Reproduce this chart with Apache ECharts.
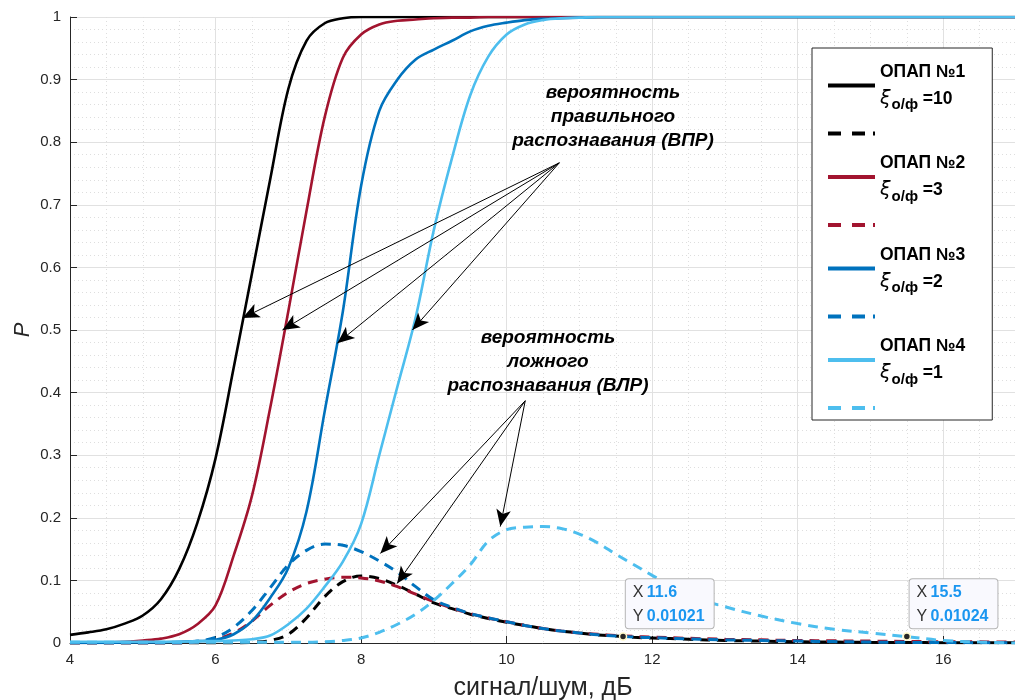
<!DOCTYPE html>
<html><head><meta charset="utf-8">
<script src="https://cdn.jsdelivr.net/npm/echarts@6/dist/echarts.min.js"></script>
<style>html,body{margin:0;padding:0;background:#fff}#c{width:1015px;height:700px}</style>
</head><body><div id="c"></div>
<script>
// signal/noise, dB
const snr = [4,4.25,4.5,4.75,5,5.25,5.5,5.75,6,6.25,6.5,6.75,7,7.25,7.5,7.75,8,8.25,8.5,8.75,9,9.25,9.5,9.75,10,10.25,10.5,10.75,11,11.25,11.5,11.75,12,12.5,13,13.5,14,14.5,15,15.5,16,16.5,17];
// probability of correct recognition (ВПР), solid
const vpr1 = [0.013,0.017,0.022,0.031,0.044,0.07,0.118,0.192,0.295,0.44,0.59,0.74,0.885,0.962,0.99,0.998,1,1,1,1,1,1,1,1,1,1,1,1,1,1,1,1,1,1,1,1,1,1,1,1,1,1,1];
const vpr2 = [0,0,0.001,0.002,0.004,0.007,0.014,0.03,0.06,0.14,0.235,0.375,0.53,0.69,0.84,0.935,0.972,0.988,0.994,0.996,0.998,0.999,0.999,1,1,1,1,1,1,1,1,1,1,1,1,1,1,1,1,1,1,1,1];
const vpr3 = [0,0,0,0.001,0.001,0.001,0.002,0.003,0.005,0.014,0.035,0.072,0.12,0.21,0.37,0.53,0.73,0.85,0.9,0.932,0.948,0.962,0.977,0.986,0.991,0.995,0.997,0.998,0.999,1,1,1,1,1,1,1,1,1,1,1,1,1,1];
const vpr4 = [0.002,0.002,0.002,0.002,0.002,0.002,0.002,0.003,0.003,0.004,0.006,0.012,0.03,0.055,0.09,0.13,0.19,0.3,0.41,0.52,0.66,0.775,0.875,0.937,0.972,0.988,0.995,0.998,0.999,1,1,1,1,1,1,1,1,1,1,1,1,1,1];
// probability of false recognition (ВЛР), dashed
const vlr1 = [0,0,0,0,0,0,0,0,0,0,0.001,0.004,0.014,0.04,0.074,0.098,0.107,0.103,0.092,0.078,0.064,0.055,0.046,0.039,0.033,0.028,0.023,0.019,0.016,0.013,0.011,0.009,0.008,0.006,0.004,0.003,0.002,0.0015,0.001,0.0008,0.0005,0.0003,0.0002];
const vlr2 = [0,0,0,0,0,0,0,0.002,0.006,0.016,0.035,0.06,0.081,0.095,0.102,0.105,0.104,0.099,0.09,0.078,0.066,0.056,0.047,0.04,0.034,0.028,0.023,0.019,0.016,0.014,0.012,0.0105,0.0095,0.0075,0.006,0.005,0.004,0.0035,0.003,0.0025,0.002,0.0018,0.0015];
const vlr3 = [0,0,0,0,0,0,0,0.003,0.009,0.025,0.052,0.088,0.125,0.148,0.158,0.156,0.146,0.131,0.113,0.09,0.069,0.057,0.047,0.04,0.034,0.028,0.023,0.019,0.016,0.013,0.011,0.0095,0.0085,0.0065,0.005,0.004,0.003,0.0022,0.0015,0.001,0.0008,0.0005,0.0003];
const vlr4 = [0.001,0.001,0.001,0.001,0.001,0.001,0.001,0.001,0.001,0.001,0.001,0.001,0.001,0.001,0.002,0.004,0.008,0.017,0.03,0.046,0.068,0.095,0.125,0.163,0.181,0.185,0.186,0.183,0.174,0.16,0.142,0.125,0.108,0.076,0.058,0.043,0.031,0.022,0.016,0.0102,0.004,0.0015,0];

const names = ['ОПАП №1','ОПАП №2','ОПАП №3','ОПАП №4'];
const xiValues = ['10','3','2','1'];
const colors = ['#000000','#A2142F','#0072BD','#4DBEEE'];
const yTicks = [0,0.1,0.2,0.3,0.4,0.5,0.6,0.7,0.8,0.9,1];

// data tips
const tipX = [11.6, 15.5];
const tipY = [0.01021, 0.01024];

// annotation arrows (data coordinates)
const vprFrom = [10.724, 0.767];
const vprTips = [[6.37,0.519],[6.92,0.5],[7.674,0.479],[8.705,0.5]];
const vlrFrom = [10.256, 0.387];
const vlrTips = [[8.265,0.143],[8.495,0.095],[9.913,0.186]];

const solid = [vpr1,vpr2,vpr3,vpr4];
const dashed = [vlr1,vlr2,vlr3,vlr4];
const FONT = 'Liberation Sans, Arial, sans-serif';

const pairs = a => snr.map((x,i)=>[x,a[i]]);
const series = [];
const legendData = [];
for (let k=0;k<4;k++){
  series.push({
    name: names[k], type:'line', data: pairs(solid[k]), symbol:'none', smooth:0.35,
    lineStyle:{color:colors[k], width:2.6}, itemStyle:{color:colors[k]}, emphasis:{disabled:true}, z:2
  });
  series.push({
    name: names[k]+' ВЛР', type:'line', data: pairs(dashed[k]), symbol:'none', smooth:0.35,
    lineStyle:{color:colors[k], width:3, type:[10,7]}, itemStyle:{color:colors[k]}, emphasis:{disabled:true}, z:2
  });
  legendData.push({name:names[k], icon:'path://M0,0h47v4h-47z'});
  legendData.push({name:names[k]+' ВЛР', icon:'path://M0,0h13v4h-13z M24,0h13v4h-13z M45,0h2v4h-2z', textStyle:{fontSize:10, lineHeight:14}});
}

const arrowData = vprTips.map(t=>[{coord:vprFrom},{coord:t}]).concat(vlrTips.map(t=>[{coord:vlrFrom},{coord:t}]));
series[0].markLine = {
  silent:true, symbol:['none','arrow'], symbolSize:[11,17], animation:false,
  lineStyle:{color:'#000', width:1, type:'solid'}, label:{show:false}, emphasis:{disabled:true},
  data: arrowData
};

const tipLabel = {
  show:true, position:[7,-4], align:'left', verticalAlign:'bottom',
  backgroundColor:'#f9f9fe', borderColor:'#b5b5b5', borderWidth:1, borderRadius:3,
  padding:[1,9,0,7],
  formatter: p => '{k|X} {v|'+p.data.coord[0]+'}\n{k|Y} {v|'+p.data.coord[1]+'}',
  rich:{
    k:{fontFamily:FONT, fontSize:16, color:'#333', lineHeight:24},
    v:{fontFamily:FONT, fontSize:16, fontWeight:'bold', color:'#1a96f0', lineHeight:24}
  }
};
const tipMarker = (i) => ({
  symbol:'circle', symbolSize:7, animation:false, silent:true,
  itemStyle:{color:'#262626', borderColor:'#fff9c8', borderWidth:1.5},
  label: tipLabel,
  data:[{coord:[tipX[i], tipY[i]]}]
});
series[1].markPoint = tipMarker(0);
series[7].markPoint = tipMarker(1);

const chart = echarts.init(document.getElementById('c'), null, {renderer:'canvas'});
chart.setOption({
  animation:false,
  backgroundColor:'#ffffff',
  grid:{left:70, right:-1, top:17, bottom:57, containLabel:false, outerBoundsMode:'none'},
  xAxis:{
    type:'value', min:4, max:17, interval:2,
    name:'сигнал/шум, дБ', nameLocation:'middle', nameGap:33,
    nameTextStyle:{fontFamily:FONT, fontSize:25, color:'#262626'},
    axisLine:{lineStyle:{color:'#262626', width:1}},
    axisTick:{inside:true, length:7, lineStyle:{color:'#262626'}},
    axisLabel:{fontFamily:FONT, fontSize:15, color:'#262626', margin:9, showMaxLabel:false},
    splitLine:{show:true, lineStyle:{color:'#e1e1e1', width:1}},
    minorTick:{show:false, splitNumber:4},
    minorSplitLine:{show:true, lineStyle:{color:'#dedede', width:1, type:[1,3]}}
  },
  yAxis:{
    type:'value', min:yTicks[0], max:yTicks[yTicks.length-1], interval:0.1,
    name:'P', nameLocation:'middle', nameGap:36, nameRotate:90, nameMoveOverlap:false,
    nameTextStyle:{fontFamily:FONT, fontSize:22, fontStyle:'italic', color:'#262626'},
    axisLine:{show:true, lineStyle:{color:'#262626', width:1}},
    axisTick:{show:true, inside:true, length:7, lineStyle:{color:'#262626'}},
    axisLabel:{fontFamily:FONT, fontSize:15, color:'#262626', margin:9},
    splitLine:{show:true, lineStyle:{color:'#e1e1e1', width:1}},
    minorTick:{show:false, splitNumber:5},
    minorSplitLine:{show:true, lineStyle:{color:'#dedede', width:1, type:[1,3]}}
  },
  legend:{
    orient:'vertical', left:812, top:48, selectedMode:false,
    padding:[15,27,10,16], itemGap:19, itemWidth:47, itemHeight:14,
    backgroundColor:'#ffffff', borderColor:'#262626', borderWidth:1,
    itemStyle:{borderWidth:0},
    data: legendData,
    formatter: name => {
      const k = names.indexOf(name);
      if (k < 0) return '';
      return '{b|'+names[k]+'}\n{xi|ξ}{sub|о/ф} {b|='+xiValues[k]+'}';
    },
    textStyle:{
      fontFamily:FONT, fontSize:17, color:'#000', width:98,
      rich:{
        b:{fontFamily:FONT, fontSize:17.5, fontWeight:'bold', color:'#000', lineHeight:27},
        xi:{fontFamily:'DejaVu Sans', fontSize:19, fontStyle:'italic', color:'#000', lineHeight:27},
        sub:{fontFamily:FONT, fontSize:15, fontWeight:'bold', color:'#000', lineHeight:27, verticalAlign:'bottom', padding:[0,0,0,1]}
      }
    }
  },
  graphic:[
    {type:'text', x:613, y:117, z:10, silent:true,
     style:{text:'вероятность\nправильного\nраспознавания (ВПР)', fontFamily:FONT, fontSize:19, fontWeight:'bold', fontStyle:'italic', fill:'#000', align:'center', verticalAlign:'middle', lineHeight:24}},
    {type:'text', x:548, y:362, z:10, silent:true,
     style:{text:'вероятность\nложного\nраспознавания (ВЛР)', fontFamily:FONT, fontSize:19, fontWeight:'bold', fontStyle:'italic', fill:'#000', align:'center', verticalAlign:'middle', lineHeight:24}}
  ],
  series: series
});
</script>
</body></html>
